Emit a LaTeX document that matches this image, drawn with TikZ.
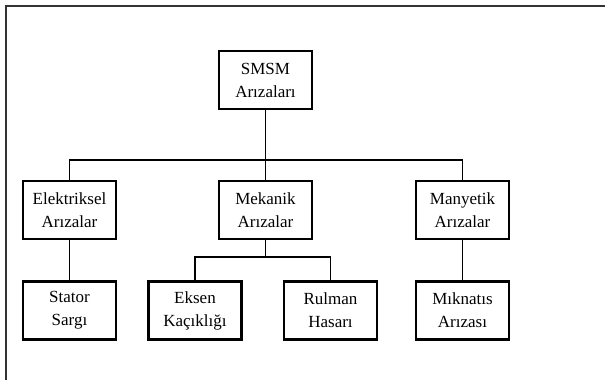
\documentclass[tikz,border=0pt]{standalone}
\usepackage{fontspec}
\setmainfont{Liberation Serif}
\begin{document}
\begin{tikzpicture}[x=1pt,y=-1pt,
  box/.style={draw=black,line width=2.2pt,minimum width=93pt,minimum height=58pt,align=center,inner sep=0pt,
    font=\fontsize{17}{23}\selectfont},
  conn/.style={draw=black,line width=1.8pt}]
\useasboundingbox (0,0) rectangle (605,380);
\draw[line width=1.3pt,draw=black!80] (6,380) -- (6,6) -- (605,6);
\node[box] (top) at (265.5,80) {SMSM\\Arızaları};
\node[box] (el) at (69.5,210) {Elektriksel\\Arızalar};
\node[box] (me) at (265.5,210) {Mekanik\\Arızalar};
\node[box] (ma) at (462.5,210) {Manyetik\\Arızalar};
\node[box] (st) at (69.5,310.5) {Stator\\Sargı};
\node[box] (ek) at (195,310.5) {Eksen\\Kaçıklığı};
\node[box] (ru) at (330.5,310.5) {Rulman\\Hasarı};
\node[box] (mi) at (462.5,310.5) {Mıknatıs\\Arızası};
\coordinate (sub) at (265.5,257);
\draw[conn] (top.south) -- (me.north);
\draw[conn] (el.north) -- ++(0,-20) -| (ma.north);
\draw[conn] (el.south) -- (st.north);
\draw[conn] (ma.south) -- (mi.north);
\draw[conn] (me.south) -- (sub);
\draw[conn] (ek.north) -- (ek.north |- sub) -| (ru.north);
\end{tikzpicture}
\end{document}
